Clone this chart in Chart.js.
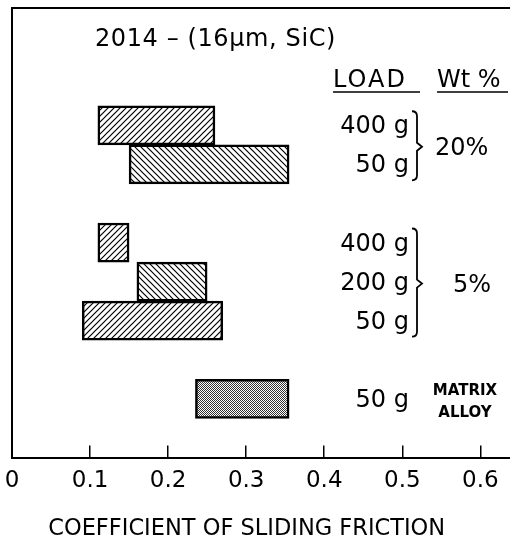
<!DOCTYPE html>
<html>
<head>
<meta charset="utf-8">
<script src="https://cdn.jsdelivr.net/npm/chart.js@4.4.1/dist/chart.umd.min.js"></script>
<style>
  body { margin: 0; background: #fff; }
</style>
</head>
<body>
<canvas id="frictionChart" width="510" height="538"></canvas>
<script>
// rows of the figure, top to bottom (gaps at 2 and 6 separate the groups)
var rows = [0, 1, 3, 4, 5, 7];
var loads = ['400 g', '50 g', '400 g', '200 g', '50 g', '50 g'];
var lows = [0.11, 0.15, 0.11, 0.16, 0.09, 0.235];
var highs = [0.26, 0.355, 0.15, 0.25, 0.27, 0.355];
var hatches = ['/', '\\', '/', '\\', '/', 'dots'];
var tickValues = [0, 0.1, 0.2, 0.3, 0.4, 0.5, 0.6];

var canvas = document.getElementById('frictionChart');
var ctx = canvas.getContext('2d');

function makePattern(kind) {
    var c = document.createElement('canvas');
    var g;
    if (kind === 'dots') {
        c.width = c.height = 2;
        g = c.getContext('2d');
        g.fillStyle = '#fff';
        g.fillRect(0, 0, 2, 2);
        g.fillStyle = '#333';
        g.fillRect(0, 0, 1, 1);
        g.fillRect(1, 1, 1, 1);
        return ctx.createPattern(c, 'repeat');
    }
    c.width = c.height = 6;
    g = c.getContext('2d');
    g.fillStyle = '#fff';
    g.fillRect(0, 0, 6, 6);
    g.strokeStyle = '#000';
    g.lineWidth = 1.2;
    g.beginPath();
    if (kind === '/') {
        g.moveTo(-1, 7); g.lineTo(7, -1);
        g.moveTo(-1, 1); g.lineTo(1, -1);
        g.moveTo(5, 7); g.lineTo(7, 5);
    } else {
        g.moveTo(-1, -1); g.lineTo(7, 7);
        g.moveTo(5, -1); g.lineTo(7, 1);
        g.moveTo(-1, 5); g.lineTo(1, 7);
    }
    g.stroke();
    return ctx.createPattern(c, 'repeat');
}

var barData = rows.map(function (r, i) {
    return { y: r, x: [lows[i], highs[i]] };
});

Chart.defaults.font.family = '"DejaVu Sans", sans-serif';
Chart.defaults.color = '#000';

// labels, brackets and frame drawn next to the bars
var notes = {
    id: 'notes',
    afterDraw: function (chart) {
        var c = chart.ctx, a = chart.chartArea, y = chart.scales.y;
        c.save();
        c.strokeStyle = '#000';
        c.fillStyle = '#000';
        c.lineWidth = 2;
        c.beginPath();
        c.moveTo(a.left - 1, a.top);
        c.lineTo(a.right, a.top);
        c.stroke();

        c.textBaseline = 'alphabetic';
        c.font = '24px "DejaVu Sans"';
        c.textAlign = 'left';
        c.letterSpacing = '0.6px';
        c.fillText('2014 \u2013 (16\u03BCm, SiC)', 95, 46);

        c.letterSpacing = '2px';
        c.fillText('LOAD', 333, 87);
        c.letterSpacing = '0px';
        c.fillText('Wt %', 437, 87);
        c.lineWidth = 1.5;
        c.beginPath();
        c.moveTo(333, 92); c.lineTo(420, 92);
        c.moveTo(437, 92); c.lineTo(508, 92);
        c.stroke();

        c.textAlign = 'right';
        rows.forEach(function (r, i) {
            c.fillText(loads[i], 409, y.getPixelForValue(r) + 8);
        });

        function brace(r0, r1) {
            var top = y.getPixelForValue(r0) - 14;
            var bot = y.getPixelForValue(r1) + 16;
            var mid = (y.getPixelForValue(r0) + y.getPixelForValue(r1)) / 2 + 2;
            var x = 417;
            c.lineWidth = 1.8;
            c.beginPath();
            c.moveTo(x - 5, top);
            c.quadraticCurveTo(x, top, x, top + 5);
            c.lineTo(x, mid - 4);
            c.lineTo(x + 5, mid);
            c.lineTo(x, mid + 4);
            c.lineTo(x, bot - 5);
            c.quadraticCurveTo(x, bot, x - 5, bot);
            c.stroke();
            return mid;
        }
        var m20 = brace(rows[0], rows[1]);
        var m5 = brace(rows[2], rows[4]);
        c.textAlign = 'left';
        c.fillText('20%', 435, m20 + 8);
        c.fillText('5%', 453, m5 + 8);

        c.font = 'bold 15px "DejaVu Sans"';
        c.textAlign = 'center';
        var ym = y.getPixelForValue(rows[5]);
        c.fillText('MATRIX', 465, ym - 4);
        c.fillText('ALLOY', 465, ym + 18);
        c.restore();
    }
};

var frictionChart = new Chart(ctx, {
    type: 'bar',
    data: {
        datasets: [{
            data: barData,
            backgroundColor: hatches.map(makePattern),
            borderColor: '#000',
            borderWidth: 2.5,
            borderSkipped: false,
            barPercentage: 1,
            categoryPercentage: 1
        }]
    },
    options: {
        indexAxis: 'y',
        responsive: false,
        animation: false,
        layout: { padding: { left: 12, top: 8, right: 0, bottom: -2 } },
        plugins: {
            legend: { display: false },
            tooltip: { enabled: false }
        },
        scales: {
            x: {
                type: 'linear',
                min: 0,
                max: 0.638,
                afterBuildTicks: function (axis) {
                    axis.ticks = tickValues.map(function (v) { return { value: v }; });
                },
                afterFit: function (axis) {
                    axis.paddingLeft = 0;
                    axis.paddingRight = 0;
                },
                grid: { drawOnChartArea: false, tickLength: -12, color: '#000', lineWidth: 1.5 },
                border: { color: '#000', width: 2 },
                ticks: {
                    padding: 24,
                    color: '#000',
                    font: { size: 23, lineHeight: 1 },
                    callback: function (v) { return v === 0 ? '0' : v.toFixed(1); }
                },
                title: {
                    display: true,
                    text: 'COEFFICIENT OF SLIDING FRICTION\u00A0\u00A0\u00A0\u00A0',
                    color: '#000',
                    font: { size: 22.5, lineHeight: 1 },
                    padding: { top: 1, bottom: 0 }
                }
            },
            y: {
                type: 'linear',
                reverse: true,
                offset: false,
                min: -3,
                max: 8.5,
                afterBuildTicks: function (axis) {
                    axis.ticks = rows.map(function (r) { return { value: r }; });
                },
                grid: { display: false, drawTicks: false },
                ticks: { display: false },
                border: { color: '#000', width: 2 }
            }
        }
    },
    plugins: [notes]
});
</script>
</body>
</html>
